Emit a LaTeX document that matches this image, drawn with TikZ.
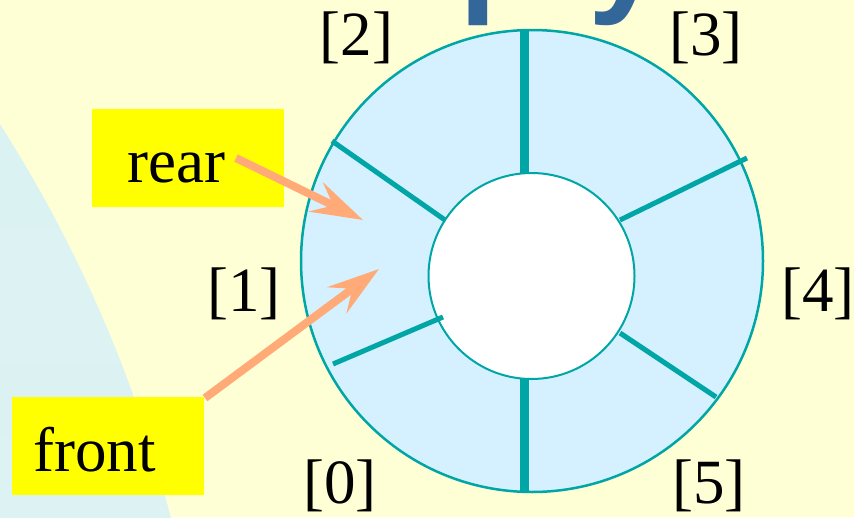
\documentclass[tikz,border=0pt]{standalone}
\usepackage{fontspec}
\setmainfont{Liberation Serif}
\newfontfamily\titlefont{Liberation Sans}
\usetikzlibrary{arrows.meta}
\definecolor{bgyellow}{RGB}{255,255,213}
\definecolor{ringfill}{RGB}{213,240,255}
\definecolor{ringteal}{RGB}{0,166,166}
\definecolor{arctop}{RGB}{216,241,246}
\definecolor{arcbot}{RGB}{229,245,235}
\definecolor{salmon}{RGB}{255,170,119}
\definecolor{titleblue}{RGB}{51,102,153}
\definecolor{boxyellow}{RGB}{255,255,0}
\begin{document}
\begin{tikzpicture}[x=1pt,y=-1pt,
  lbl/.style={anchor=base,inner sep=0pt,font=\fontsize{63}{70}\selectfont},
  boxtext/.style={anchor=base west,inner sep=0pt,font=\fontsize{63}{70}\selectfont},
  divthin/.style={draw=ringteal,line width=5pt},
  divthick/.style={draw=ringteal,line width=9pt},
  pointer/.style={draw=salmon,line width=8pt,-{Stealth[length=52pt,width=32pt,inset=19pt,fill=salmon]}}
]
\useasboundingbox (0,0) rectangle (854,517);
\fill[bgyellow] (0,0) rectangle (854,517);
\begin{scope}
  \clip (0,0) rectangle (854,517);
  \shade[top color=arctop,bottom color=arcbot] (-1146,855) circle[radius=1359];
  \node[anchor=base west,inner sep=0pt,text=titleblue,font=\titlefont\bfseries\fontsize{136}{140}\selectfont] (title) at (248,-3) {Empty};
\end{scope}
% ring
\filldraw[fill=ringfill,draw=ringteal,line width=2.5pt] (532,261) circle[radius=231];
\filldraw[fill=white,draw=ringteal,line width=2pt] (531.5,276) circle[radius=103];
% dividers
\coordinate (t1) at (524,30);  \coordinate (t2) at (524,173);
\coordinate (b1) at (524,379); \coordinate (b2) at (524,492);
\coordinate (ul1) at (332,141); \coordinate (ul2) at (445,220);
\coordinate (ll1) at (333,364); \coordinate (ll2) at (443,317);
\coordinate (ur1) at (747,158); \coordinate (ur2) at (620,220);
\coordinate (lr1) at (620,333); \coordinate (lr2) at (716,397);
\draw[divthick] (t1) -- (t2);
\draw[divthick] (b1) -- (b2);
\draw[divthin] (ul1) -- (ul2);
\draw[divthin] (ll1) -- (ll2);
\draw[divthin] (ur1) -- (ur2);
\draw[divthin] (lr1) -- (lr2);
% index labels
\node[lbl] (i2) at (356.5,55) {[2]};
\node[lbl] (i3) at (706,55) {[3]};
\node[lbl] (i1) at (244,311) {[1]};
\node[lbl] (i4) at (818,311) {[4]};
\node[lbl] (i0) at (340,503) {[0]};
\node[lbl] (i5) at (709,503) {[5]};
% boxes
\fill[boxyellow] (92,109) rectangle (284,207);
\fill[boxyellow] (12,397) rectangle (204,495);
\node[boxtext] (rear) at (127,182) {rear};
\node[boxtext] (front) at (33,471) {front};
% arrows
\coordinate (rearstart) at (236,158);
\coordinate (reartip) at (363,220);
\coordinate (frontstart) at (205,398);
\coordinate (fronttip) at (379,269);
\draw[pointer] (rearstart) -- (reartip);
\draw[pointer] (frontstart) -- (fronttip);
\end{tikzpicture}
\end{document}
